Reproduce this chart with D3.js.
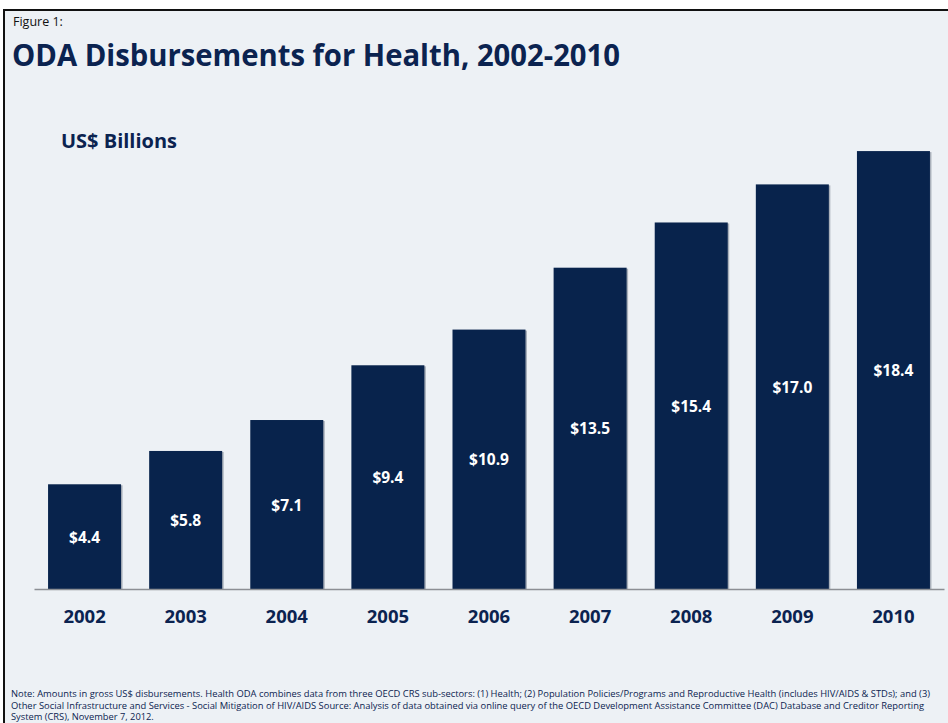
<!DOCTYPE html>
<html>
<head>
<meta charset="utf-8">
<script src="https://cdn.jsdelivr.net/npm/d3@7"></script>
<style>
  html, body { margin: 0; padding: 0; background: #ffffff; overflow: hidden; }
  svg { display: block; overflow: hidden; }
  text { font-family: "Open Sans", "Noto Sans", sans-serif; }
</style>
</head>
<body>
<svg id="chart" width="948" height="723"></svg>
<script>
const years = ["2002", "2003", "2004", "2005", "2006", "2007", "2008", "2009", "2010"];
const values = [4.4, 5.8, 7.1, 9.4, 10.9, 13.5, 15.4, 17.0, 18.4];
const valueLabels = ["$4.4", "$5.8", "$7.1", "$9.4", "$10.9", "$13.5", "$15.4", "$17.0", "$18.4"];
const figureLabel = "Figure 1:";
const titleText = "ODA Disbursements for Health, 2002-2010";
const unitText = "US$ Billions";
const noteLines = [
  "Note: Amounts in gross US$ disbursements. Health ODA combines data from three OECD CRS sub-sectors: (1) Health; (2) Population Policies/Programs and Reproductive Health (includes HIV/AIDS & STDs); and (3)",
  "Other Social Infrastructure and Services - Social Mitigation of HIV/AIDS Source: Analysis of data obtained via online query of the OECD Development Assistance Committee (DAC) Database and Creditor Reporting",
  "System (CRS), November 7, 2012."
];

const navy = "#08234c";
const svg = d3.select("#chart");

// panel background and frame (left and top edges only visible)
svg.append("rect").attr("x", 4).attr("y", 10).attr("width", 944).attr("height", 713)
  .attr("fill", "#edf1f5");
svg.append("path").attr("d", "M4,723 L4,10 L948,10")
  .attr("fill", "none").attr("stroke", "#111").attr("stroke-width", 2);

// header texts
svg.append("text").attr("x", 13).attr("y", 26).attr("font-size", 12.5)
  .attr("fill", "#111").text(figureLabel);
svg.append("text").attr("x", 12).attr("y", 66).attr("font-size", 31).attr("font-weight", 700)
  .attr("fill", "#0b2350").attr("textLength", 608).attr("lengthAdjust", "spacingAndGlyphs")
  .text(titleText);
svg.append("text").attr("x", 61).attr("y", 148).attr("font-size", 19.5).attr("font-weight", 700)
  .attr("fill", "#0b2350").attr("textLength", 116).attr("lengthAdjust", "spacingAndGlyphs")
  .text(unitText);

// scales
const x = d3.scaleBand().domain(years).range([34, 944]).paddingInner(0.278).paddingOuter(0.139);
const y = d3.scaleLinear().domain([0, 20]).range([589, 113]);

const data = years.map((yr, i) => ({ year: yr, value: values[i], label: valueLabels[i] }));

// bar shadows
svg.append("g").selectAll("rect").data(data).join("rect")
  .attr("x", d => x(d.year) + 1.5)
  .attr("y", d => y(d.value) + 1)
  .attr("width", x.bandwidth())
  .attr("height", d => y(0) - y(d.value) - 1)
  .attr("fill", "#a9b0ba");

// bars
svg.append("g").selectAll("rect").data(data).join("rect")
  .attr("x", d => x(d.year))
  .attr("y", d => y(d.value))
  .attr("width", x.bandwidth())
  .attr("height", d => y(0) - y(d.value))
  .attr("fill", navy);

// value labels
svg.append("g").selectAll("text").data(data).join("text")
  .attr("x", d => x(d.year) + x.bandwidth() / 2)
  .attr("y", d => (y(d.value) + y(0)) / 2 + 2)
  .attr("text-anchor", "middle")
  .attr("dominant-baseline", "middle")
  .attr("font-size", 15.5).attr("font-weight", 700)
  .attr("fill", "#ffffff")
  .text(d => d.label);

// x axis
const axis = svg.append("g").attr("transform", `translate(0,${y(0)})`)
  .call(d3.axisBottom(x).tickSize(0).tickPadding(0));
axis.select(".domain").attr("stroke", "#8c8f94").attr("stroke-width", 1.5);
axis.selectAll(".tick text")
  .attr("dy", null)
  .attr("y", 34)
  .attr("font-family", "'Open Sans', sans-serif")
  .attr("font-size", 18.5).attr("font-weight", 700)
  .attr("fill", "#0b2350");

// notes
const noteWidths = [919, 913, null];
noteLines.forEach((line, i) => {
  const t = svg.append("text").attr("x", 11).attr("y", 697 + i * 11.5)
    .attr("font-size", 9.3).attr("fill", "#0b2350").text(line);
  if (noteWidths[i]) t.attr("textLength", noteWidths[i]).attr("lengthAdjust", "spacingAndGlyphs");
});
</script>
</body>
</html>
